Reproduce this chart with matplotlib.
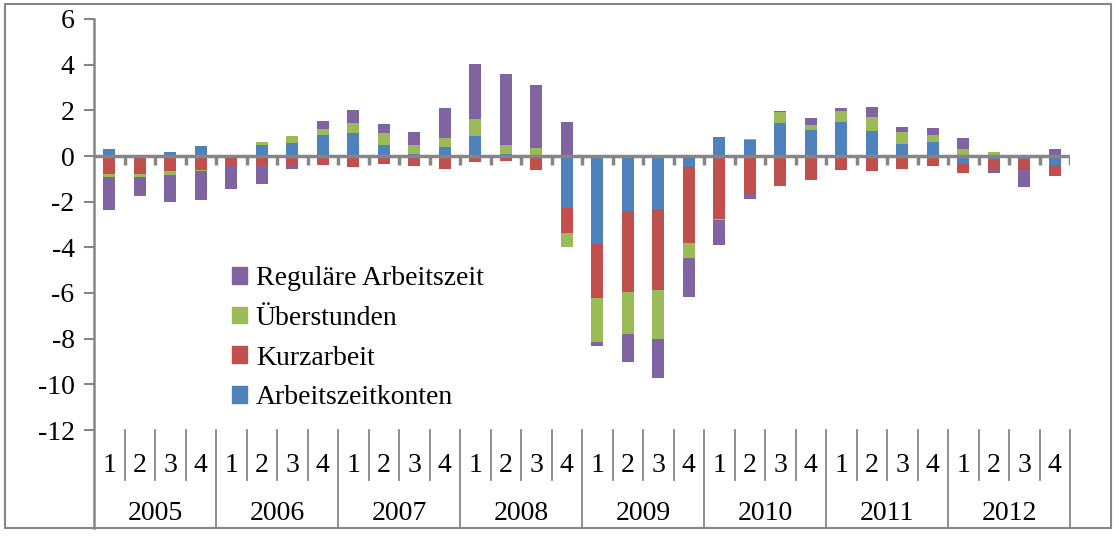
import numpy as np
import matplotlib
matplotlib.use("Agg")
import matplotlib.pyplot as plt
from matplotlib.patches import Patch, Rectangle
from matplotlib.lines import Line2D
import matplotlib.transforms as mtransforms

plt.rcParams['font.family'] = ['Liberation Serif', 'DejaVu Serif']
plt.rcParams['axes.unicode_minus'] = False

years = ['2005', '2006', '2007', '2008', '2009', '2010', '2011', '2012']
quarters = ['1', '2', '3', '4']

# Beiträge je Quartal (Prozentpunkte)
arbeitszeitkonten = [0.31, 0.0, 0.18, 0.44, -0.10, 0.48, 0.57, 0.92,
                     1.00, 0.48, 0.09, 0.39, 0.88, 0.09, 0.02, -2.28,
                     -3.86, -2.41, -2.32, -0.48, 0.83, 0.70, 1.45, 1.14,
                     1.49, 1.10, 0.53, 0.61, -0.35, -0.18, -0.13, -0.39]
kurzarbeit = [-0.79, -0.79, -0.66, -0.61, -0.35, -0.39, -0.44, -0.39,
              -0.48, -0.35, -0.44, -0.57, -0.26, -0.22, -0.61, -1.10,
              -2.37, -3.55, -3.55, -3.33, -2.76, -1.67, -1.32, -1.05,
              -0.61, -0.66, -0.57, -0.44, -0.39, -0.44, -0.44, -0.48]
ueberstunden = [-0.13, -0.13, -0.18, -0.04, 0.0, 0.13, 0.31, 0.26,
                0.44, 0.53, 0.39, 0.39, 0.75, 0.39, 0.35, -0.61,
                -1.93, -1.84, -2.15, -0.66, -0.04, 0.04, 0.48, 0.22,
                0.48, 0.61, 0.53, 0.31, 0.31, 0.18, 0.0, 0.0]
regulaer = [-1.43, -0.83, -1.18, -1.27, -1.00, -0.83, -0.13, 0.35,
            0.57, 0.39, 0.57, 1.32, 2.41, 3.11, 2.72, 1.49,
            -0.18, -1.23, -1.71, -1.71, -1.10, -0.22, 0.04, 0.31,
            0.13, 0.44, 0.22, 0.31, 0.48, -0.13, -0.79, 0.31]

series = [('Arbeitszeitkonten', arbeitszeitkonten, '#4F81BD'),
          ('Kurzarbeit', kurzarbeit, '#C0504D'),
          ('Überstunden', ueberstunden, '#9BBB59'),
          ('Reguläre Arbeitszeit', regulaer, '#8064A2')]

W, H = 1117, 536
gray = '#868686'
fs = 20
fig = plt.figure(figsize=(W / 100, H / 100), dpi=100)
ax = fig.add_axes([94 / W, (H - 430) / H, (1070 - 94) / W, (430 - 19) / H])

n = len(years) * len(quarters)
x = np.arange(n)
pos = np.zeros(n)
neg = np.zeros(n)
for name, vals, col in series:
    v = np.array(vals)
    bottom = np.where(v >= 0, pos, neg)
    ax.bar(x, v, bottom=bottom, width=0.4, color=col, zorder=2)
    pos += np.clip(v, 0, None)
    neg += np.clip(v, None, 0)

ax.set_xlim(-0.5, n - 0.5)
ax.set_ylim(-12, 6)
ax.set_yticks(np.arange(-12, 7, 2))
ax.tick_params(axis='y', direction='out', length=7, width=1.5, color=gray,
               labelsize=fs, pad=7)
ax.set_xticks([])
for s in ['top', 'right', 'bottom', 'left']:
    ax.spines[s].set_visible(False)

# Nulllinie mit Teilstrichen nach unten
ax.axhline(0, color=gray, lw=2.5, zorder=3)
ax.vlines(np.arange(n) + 0.5, -0.4, 0, color=gray, lw=2.5, zorder=3)

# Kategorienachse unten
trans = mtransforms.blended_transform_factory(ax.transData, ax.transAxes)
ah = 430 - 19
ax.add_line(Line2D([-0.5, -0.5], [1, -98 / ah], transform=trans, color=gray,
                   lw=1.8, clip_on=False))
for k in range(n):
    ax.text(k, -36 / ah, quarters[k % 4], transform=trans, ha='center',
            va='center', fontsize=fs)
    xb = k + 0.5
    if (k + 1) % 4 == 0:
        ax.add_line(Line2D([xb, xb], [0, -98 / ah], transform=trans,
                           color=gray, lw=1.3, clip_on=False))
    else:
        ax.add_line(Line2D([xb, xb], [0, -50 / ah], transform=trans,
                           color=gray, lw=1.3, clip_on=False))
for j, yr in enumerate(years):
    ax.text(4 * j + 1.5, -84 / ah, yr, transform=trans, ha='center',
            va='center', fontsize=fs)

handles = [Patch(color=col, label=name) for name, vals, col in series][::-1]
fig.legend(handles=handles, loc='upper left', bbox_to_anchor=(221 / W, 1 - 255 / H),
           frameon=False, fontsize=fs, handlelength=0.55, handleheight=0.55,
           handletextpad=0.3, labelspacing=0.53, borderaxespad=0)

fig.add_artist(Rectangle((5 / W, (H - 528) / H), (1111 - 5) / W, (528 - 4) / H,
                         transform=fig.transFigure, fill=False,
                         edgecolor=gray, lw=1.5))

fig.savefig('out.png', dpi=100)
